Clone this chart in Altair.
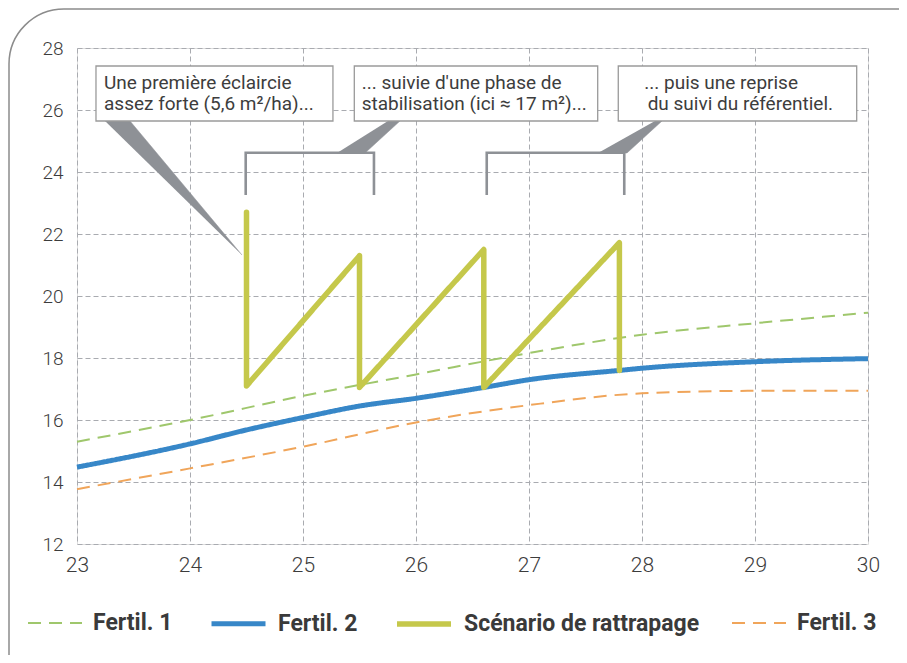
import altair as alt
import pandas as pd

# ---- values ----
series_names = ["Fertil. 1", "Fertil. 2", "Scénario de rattrapage", "Fertil. 3"]

annees_f1 = [23, 24, 25, 26, 27, 28, 29, 30]
fertil1 = [15.30, 16.00, 16.78, 17.47, 18.16, 18.75, 19.12, 19.46]

annees_f2 = [23, 24, 24.5, 25, 25.5, 26, 26.6, 27, 27.8, 28, 29, 30]
fertil2 = [14.48, 15.23, 15.68, 16.08, 16.45, 16.70, 17.05, 17.30, 17.60, 17.67, 17.88, 17.98]

annees_f3 = [23, 24, 25, 26, 27, 28, 29, 30]
fertil3 = [13.77, 14.44, 15.14, 15.92, 16.48, 16.86, 16.94, 16.94]

annees_scen = [24.5, 24.5, 25.5, 25.5, 26.6, 26.6, 27.8, 27.8]
scenario = [22.70, 17.10, 21.30, 17.05, 21.50, 17.05, 21.72, 17.60]

x_ticks = [23, 24, 25, 26, 27, 28, 29, 30]
y_ticks = [12, 14, 16, 18, 20, 22, 24, 26, 28]

callout_lines = [
    ["Une première éclaircie", "assez forte (5,6 m²/ha)..."],
    ["... suivie d'une phase de", "stabilisation (ici ≈ 17 m²)..."],
    ["... puis une reprise", "du suivi du référentiel."],
]

# ---- build the table ----
rows = []
for name, xs_, ys_ in [
    ("Fertil. 1", annees_f1, fertil1),
    ("Fertil. 2", annees_f2, fertil2),
    ("Fertil. 3", annees_f3, fertil3),
    ("Scénario de rattrapage", annees_scen, scenario),
]:
    for i, (a, v) in enumerate(zip(xs_, ys_)):
        rows.append({"annee": a, "valeur": v, "serie": name, "ordre": i})
df = pd.DataFrame(rows)

# ---- annotation geometry (in data units) ----
box_x = [(23.168, 25.265), (25.454, 27.608), (27.790, 29.900)]
box_y = (27.419, 25.645)
text_x = [(23.239, 23.239), (25.519, 25.519), (28.02, 28.05)]
text_y = (26.677, 25.984)

boxes = pd.DataFrame([{"x": a, "x2": b, "y": box_y[0], "y2": box_y[1]} for a, b in box_x])
texts = pd.DataFrame([
    {"x": text_x[i][j], "y": text_y[j], "t": callout_lines[i][j]}
    for i in range(3) for j in range(2)
])

wedges_pts = [
    [(23.248, 25.645), (23.469, 25.645), (24.460, 21.323)],
    [(25.301, 24.613), (25.549, 24.613), (25.858, 25.645), (25.752, 25.645)],
    [(27.611, 24.613), (27.867, 24.613), (28.177, 25.645), (28.115, 25.645)],
]
wedges = pd.DataFrame([
    {"id": k, "o": i, "x": p[0], "y": p[1]}
    for k, pts in enumerate(wedges_pts) for i, p in enumerate(pts)
])

brackets_pts = [
    [(24.493, 23.258), (24.493, 24.623), (25.628, 24.623), (25.628, 23.258)],
    [(26.626, 23.258), (26.626, 24.623), (27.843, 24.623), (27.843, 23.258)],
]
brackets = pd.DataFrame([
    {"id": k, "o": i, "x": p[0], "y": p[1]}
    for k, pts in enumerate(brackets_pts) for i, p in enumerate(pts)
])

# ---- styles ----
colors = ["#9fc76c", "#3787c8", "#c5c84b", "#f0a55a"]
dashes = [[13, 8], [1, 0], [1, 0], [13, 8]]
widths = [2, 5, 5.5, 2]
FONT = "Roboto"
GREY = "#8e9196"

xs = alt.Scale(domain=[23, 30], nice=False, zero=False)
ys = alt.Scale(domain=[12, 28], nice=False, zero=False)

leg = alt.Legend(
    title=None, orient="none", direction="horizontal",
    legendX=-50, legendY=546,
    symbolType="stroke", symbolSize=2916,
    labelFont=FONT, labelFontSize=23, labelFontWeight="bold", labelColor="#3a3a3a",
    labelOffset=10, columnPadding=28, labelLimit=400,
)

def line_layer(name, **kw):
    return alt.Chart(df).transform_filter(alt.datum.serie == name).mark_line(**kw).encode(
        x=alt.X("annee:Q", scale=xs, title=None,
                axis=alt.Axis(values=x_ticks, format="d", grid=True, gridDash=[5, 3], gridColor="#a9abb0",
                              domain=False, ticks=False, labelFont=FONT, labelFontSize=21,
                              labelFontWeight=300, labelColor="#3c3c3c", labelPadding=10,
                              labelFlush=False)),
        y=alt.Y("valeur:Q", scale=ys, title=None,
                axis=alt.Axis(values=y_ticks, format="d", grid=True, gridDash=[5, 3], gridColor="#a9abb0",
                              domain=False, ticks=False, labelFont=FONT, labelFontSize=19,
                              labelFontWeight=300, labelColor="#3c3c3c", labelPadding=14)),
        color=alt.Color("serie:N", scale=alt.Scale(domain=series_names, range=colors), legend=leg),
        strokeDash=alt.StrokeDash("serie:N", scale=alt.Scale(domain=series_names, range=dashes), legend=leg),
        strokeWidth=alt.StrokeWidth("serie:N", scale=alt.Scale(type="ordinal", domain=series_names, range=widths), legend=leg),
        order="ordre:Q",
    )

frame = alt.Chart(alt.Data(values=[{"a": 1}])).mark_rect(
    cornerRadius=55, fill="white", fillOpacity=0, stroke="#8c8c8c", strokeWidth=1.5
).encode(x=alt.value(-68), x2=alt.value(1200), y=alt.value(-39), y2=alt.value(1200))

bracket_layer = alt.Chart(brackets).mark_line(stroke=GREY, strokeWidth=2.6).encode(
    x=alt.X("x:Q", scale=xs), y=alt.Y("y:Q", scale=ys), detail="id:N", order="o:Q")

wedge_layer = alt.Chart(wedges).mark_line(fill=GREY, stroke=GREY, strokeWidth=0.5).encode(
    x=alt.X("x:Q", scale=xs), y=alt.Y("y:Q", scale=ys), detail="id:N", order="o:Q")

box_layer = alt.Chart(boxes).mark_rect(fill="white", stroke="#9a9a9a", strokeWidth=1.3).encode(
    x=alt.X("x:Q", scale=xs), x2="x2:Q", y=alt.Y("y:Q", scale=ys), y2="y2:Q")

text_layer = alt.Chart(texts).mark_text(
    align="left", baseline="alphabetic", font=FONT, fontSize=19, color="#3d3d3d"
).encode(x=alt.X("x:Q", scale=xs), y=alt.Y("y:Q", scale=ys), text="t:N")

chart = alt.layer(
    frame,
    line_layer("Fertil. 1", interpolate="monotone"),
    line_layer("Fertil. 3", interpolate="monotone"),
    line_layer("Fertil. 2", interpolate="monotone"),
    line_layer("Scénario de rattrapage", strokeCap="round", strokeJoin="round"),
    bracket_layer,
    wedge_layer,
    box_layer,
    text_layer,
).properties(
    width=791, height=496,
    autosize=alt.AutoSizeParams(type="none"),
    padding={"left": 69, "top": 40, "right": 31, "bottom": 111},
).configure_view(
    stroke="#a6a8ad", strokeWidth=2
).configure(background="white")

chart.save("out.html", embed_options={"renderer": "svg", "actions": False})
